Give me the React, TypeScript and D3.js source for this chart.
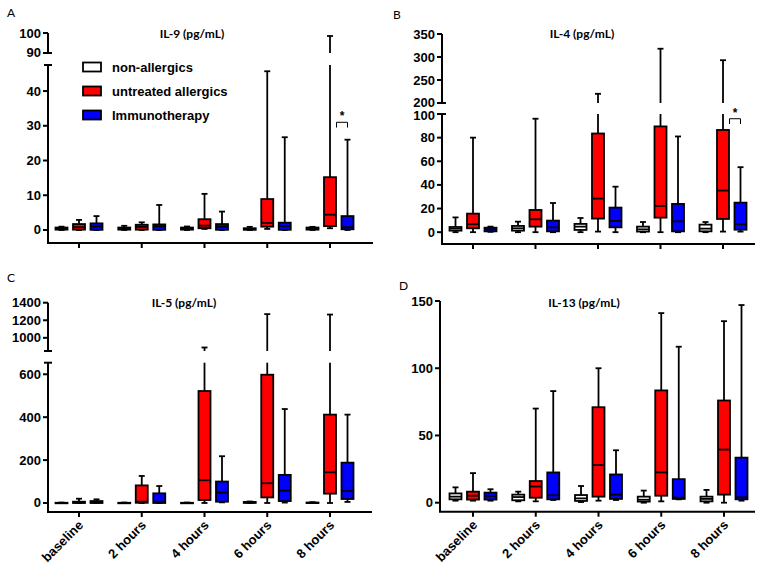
import React from "react";
import * as d3 from "d3";

const categories = ["baseline", "2 hours", "4 hours", "6 hours", "8 hours"];
const groupNames = ["non-allergics", "untreated allergics", "Immunotherapy"];
const groupColors = ["#ffffff", "#ff0000", "#0000ff"];

// each entry: [min, q1, median, q3, max]
const il9NonAllergic = [[0, 0.1, 0.4, 0.7, 0.95], [0, 0.1, 0.4, 0.7, 1.2], [0, 0.1, 0.4, 0.7, 1.0], [0, 0.05, 0.3, 0.5, 0.9], [0, 0.1, 0.4, 0.7, 0.9]];
const il9Untreated = [[0, 0.1, 0.8, 1.7, 2.9], [0, 0.1, 0.9, 1.5, 2.2], [0.3, 0.5, 1.25, 3.1, 10.4], [0.3, 0.95, 2.0, 8.9, 45.7], [0.5, 1.1, 4.4, 15.2, 98.5]];
const il9Immuno = [[0, 0.05, 1.0, 1.9, 4.0], [0, 0.05, 1.0, 1.6, 7.2], [0, 0.05, 0.95, 1.7, 5.3], [0, 0.05, 1.15, 2.1, 26.7], [0, 0.2, 0.8, 4.0, 26.0]];

const il4NonAllergic = [[0, 1.3, 3, 4.4, 12.5], [0, 1.3, 3.3, 5.3, 8.9], [0, 1.9, 4.7, 7, 12], [0, 0.5, 2.4, 4.7, 8.6], [0, 0.7, 3, 6.4, 8.6]];
const il4Untreated = [[0, 3.3, 6.7, 15.7, 80], [0, 4.7, 10.9, 18.8, 96], [0.5, 11.5, 28.4, 83.5, 220], [0, 12.3, 22.2, 89.5, 318], [0.5, 11.2, 35.2, 86.5, 293]];
const il4Immuno = [[0.3, 0.7, 2.4, 3.8, 4.7], [0, 0.7, 4.1, 9.8, 24.7], [0, 4.1, 9.5, 20.8, 38.5], [0, 0.7, 9.2, 23.9, 81], [0.5, 2.1, 6.7, 25, 55]];

const il5NonAllergic = [[0, 0, 0.5, 1, 2], [0, 0, 0.5, 1, 2], [0, 0, 0.5, 1, 2], [0, 0.5, 2, 5, 7], [0, 0, 1, 2, 4]];
const il5Untreated = [[0, 0, 3, 6, 20], [0, 1, 6, 82, 126], [0, 14, 106, 522, 890], [0, 26, 92, 598, 1270], [0, 43.5, 143, 412, 1265]];
const il5Immuno = [[0, 0, 3, 9, 17], [0, 0, 6, 45, 79], [3, 6, 48, 100, 218], [2, 9, 57.5, 131, 438], [5, 18.6, 56, 188, 412]];

const il13NonAllergic = [[1.5, 2.5, 4.5, 6.9, 11.4], [1, 1.8, 4.2, 6, 8.2], [0.5, 1.3, 3.2, 5.7, 12.4], [0, 0.8, 2.2, 4.5, 9], [0, 1, 2.8, 4.5, 9.5]];
const il13Untreated = [[1.5, 2.3, 5.2, 8.2, 22], [1, 3.7, 12, 16.1, 70], [1.5, 4.5, 28, 71, 100], [1, 5.2, 22.5, 83.5, 141], [0, 6, 39.5, 76, 135]];
const il13Immuno = [[1.5, 2.3, 5, 7.5, 10], [2, 2.5, 5.5, 22.5, 83], [2, 2.8, 6, 21, 39], [2.5, 2.8, 3.8, 17.5, 116], [1.5, 2.5, 4, 33.5, 147]];

const il9Ticks = [[0, 10, 20, 30, 40], [90, 100]];
const il4Ticks = [[0, 20, 40, 60, 80, 100], [200, 250, 300, 350]];
const il5Ticks = [[0, 200, 400, 600], [1000, 1200, 1400]];
const il13Ticks = [[0, 50, 100, 150]];

type Seg = { domain: [number, number]; range: [number, number]; ticks: number[]; breakTop?: boolean; breakBottom?: boolean };

const panels = [
  {
    letter: "A", letterPos: [7, 17], title: "IL-9 (pg/mL)", titlePos: [192, 38],
    axisX: 48, xAxisY: 243, xAxisEnd: 373, xRange: [79, 330], labels: false,
    segments: [
      { domain: [-3.75, 47.5], range: [243, 65], ticks: il9Ticks[0], breakTop: true },
      { domain: [90, 100], range: [53, 33], ticks: il9Ticks[1], breakBottom: true },
    ] as Seg[],
    data: [il9NonAllergic, il9Untreated, il9Immuno], sig: { cat: 4, y: 31, y2: 29.5 }, legend: true,
  },
  {
    letter: "B", letterPos: [393, 19], title: "IL-4 (pg/mL)", titlePos: [582, 38],
    axisX: 442, xAxisY: 244, xAxisEnd: 755, xRange: [473, 723], labels: false,
    segments: [
      { domain: [-10, 100], range: [244, 114], ticks: il4Ticks[0], breakTop: true },
      { domain: [200, 350], range: [103, 34], ticks: il4Ticks[1], breakBottom: true },
    ] as Seg[],
    data: [il4NonAllergic, il4Untreated, il4Immuno], sig: { cat: 4, y: 96, y2: 91.5 }, legend: false,
  },
  {
    letter: "C", letterPos: [7, 282], title: "IL-5 (pg/mL)", titlePos: [184, 307],
    axisX: 48, xAxisY: 512, xAxisEnd: 372, xRange: [79, 330], labels: true,
    segments: [
      { domain: [-42, 654], range: [512, 362.7], ticks: il5Ticks[0], breakTop: true },
      { domain: [850, 1400], range: [351, 302.7], ticks: il5Ticks[1], breakBottom: true },
    ] as Seg[],
    data: [il5NonAllergic, il5Untreated, il5Immuno], sig: null, legend: false,
  },
  {
    letter: "D", letterPos: [399, 290], title: "IL-13 (pg/mL)", titlePos: [584, 307],
    axisX: 440, xAxisY: 511.7, xAxisEnd: 755, xRange: [473, 724], labels: true,
    segments: [
      { domain: [-6.7, 150], range: [511.7, 301], ticks: il13Ticks[0] },
    ] as Seg[],
    data: [il13NonAllergic, il13Untreated, il13Immuno], sig: null, legend: false,
  },
];

const FONT = "'Liberation Sans', Arial, sans-serif";
const AX = 2;
const LW = 1.8;
const BOX_W = 12;
const CAP_W = 6;
const OFFS = [-17.5, 0, 17.5];

function Panel({ p }: { p: any }) {
  const segs: Seg[] = p.segments;
  const scales = segs.map((s) => d3.scaleLinear().domain(s.domain).range(s.range));
  const x = d3.scalePoint<string>().domain(categories).range(p.xRange);
  const yOf = (v: number): number | null => {
    for (let i = 0; i < segs.length; i++) {
      if (v >= segs[i].domain[0] && v <= segs[i].domain[1]) return scales[i](v);
    }
    return null;
  };
  const pieces = (a: number, b: number) =>
    segs
      .map((s, i) => {
        const lo = Math.max(a, s.domain[0]);
        const hi = Math.min(b, s.domain[1]);
        return lo < hi ? [scales[i](lo), scales[i](hi)] : null;
      })
      .filter(Boolean) as number[][];

  const ax = p.axisX;
  const els: any[] = [];
  segs.forEach((s, i) => {
    els.push(<line key={`ax${i}`} x1={ax} x2={ax} y1={s.range[0]} y2={s.range[1]} stroke="#000" strokeWidth={AX} />);
    s.ticks.forEach((t) => {
      const y = scales[i](t);
      const nudge = s.breakTop && t === s.domain[1] ? 1.5 : s.breakBottom && t === s.domain[0] ? -1 : 0;
      els.push(<line key={`t${i}-${t}`} x1={ax - 5} x2={ax} y1={y} y2={y} stroke="#000" strokeWidth={AX} />);
      els.push(
        <text key={`tl${i}-${t}`} x={ax - 7} y={y + 4.5 + nudge} textAnchor="end" fontFamily={FONT} fontWeight="bold" fontSize={13}>
          {t}
        </text>
      );
    });
    if (s.breakTop) els.push(<line key={`bt${i}`} x1={ax - 4} x2={ax + 4} y1={s.range[1]} y2={s.range[1]} stroke="#000" strokeWidth={AX} />);
    if (s.breakBottom) els.push(<line key={`bb${i}`} x1={ax - 4} x2={ax + 4} y1={s.range[0]} y2={s.range[0]} stroke="#000" strokeWidth={AX} />);
  });
  els.push(<line key="xax" x1={ax - 1} x2={p.xAxisEnd} y1={p.xAxisY} y2={p.xAxisY} stroke="#000" strokeWidth={AX} />);
  categories.forEach((c) => {
    const cx = x(c)!;
    els.push(<line key={`xt${c}`} x1={cx} x2={cx} y1={p.xAxisY} y2={p.xAxisY + 5} stroke="#000" strokeWidth={AX} />);
    if (p.labels) {
      els.push(
        <text key={`xl${c}`} transform={`translate(${cx + 5},${p.xAxisY + 14}) rotate(-45)`} textAnchor="end" fontFamily={FONT} fontWeight="bold" fontSize={13}>
          {c}
        </text>
      );
    }
  });

  p.data.forEach((series: number[][], g: number) => {
    series.forEach((d, ci) => {
      const [mn, q1, md, q3, mx] = d;
      const cx = x(categories[ci])! + OFFS[g];
      const k = `b${g}-${ci}`;
      pieces(q3, mx).forEach((pc, j) => els.push(<line key={`${k}wu${j}`} x1={cx} x2={cx} y1={pc[0]} y2={pc[1]} stroke="#000" strokeWidth={LW} />));
      pieces(mn, q1).forEach((pc, j) => els.push(<line key={`${k}wl${j}`} x1={cx} x2={cx} y1={pc[0]} y2={pc[1]} stroke="#000" strokeWidth={LW} />));
      const ymx = yOf(mx);
      if (ymx !== null) els.push(<line key={`${k}cu`} x1={cx - CAP_W / 2} x2={cx + CAP_W / 2} y1={ymx} y2={ymx} stroke="#000" strokeWidth={LW} />);
      const ymn = yOf(mn);
      if (ymn !== null) els.push(<line key={`${k}cl`} x1={cx - CAP_W / 2} x2={cx + CAP_W / 2} y1={ymn} y2={ymn} stroke="#000" strokeWidth={LW} />);
      const y3 = yOf(q3)!;
      const y1 = yOf(q1)!;
      els.push(<rect key={`${k}r`} x={cx - BOX_W / 2} y={y3} width={BOX_W} height={Math.max(y1 - y3, 0.5)} fill={groupColors[g]} stroke="#000" strokeWidth={LW} />);
      const ym = yOf(md)!;
      els.push(<line key={`${k}m`} x1={cx - BOX_W / 2} x2={cx + BOX_W / 2} y1={ym} y2={ym} stroke="#000" strokeWidth={LW} />);
    });
  });

  if (p.sig) {
    const cx = x(categories[p.sig.cat])!;
    const xa = cx + 6.5;
    const xb = cx + OFFS[2];
    const yt = yOf(p.sig.y)!;
    const yb = yOf(p.sig.y2)!;
    els.push(<path key="sig" d={`M${xa},${yb}V${yt}H${xb}V${yb}`} fill="none" stroke="#000" strokeWidth={1} />);
    els.push(
      <text key="sigt" x={(xa + xb) / 2} y={yt - 2} textAnchor="middle" fontFamily={FONT} fontWeight="bold" fontSize={12}>
        *
      </text>
    );
  }

  if (p.legend) {
    groupNames.forEach((n, i) => {
      const yy = 67 + i * 24;
      els.push(<rect key={`lg${i}`} x={83} y={yy - 4.5} width={18} height={9} fill={groupColors[i]} stroke="#000" strokeWidth={LW} />);
      els.push(
        <text key={`lt${i}`} x={112} y={yy + 5} fontFamily={FONT} fontWeight="bold" fontSize={13}>
          {n}
        </text>
      );
    });
  }

  els.push(
    <text key="title" x={p.titlePos[0]} y={p.titlePos[1]} textAnchor="middle" fontFamily="Lato, 'Open Sans', sans-serif" fontWeight="bold" fontSize={12}>
      {p.title}
    </text>
  );
  els.push(
    <text key="letter" x={p.letterPos[0]} y={p.letterPos[1]} fontFamily="Lato, 'Open Sans', sans-serif" fontSize={12}>
      {p.letter}
    </text>
  );
  return <g>{els}</g>;
}

export default function App() {
  return (
    <div style={{ position: "absolute", left: 0, top: 0 }}>
      <svg width={764} height={570} style={{ display: "block", background: "#fff" }}>
        {panels.map((p) => (
          <Panel key={p.letter} p={p} />
        ))}
      </svg>
    </div>
  );
}
